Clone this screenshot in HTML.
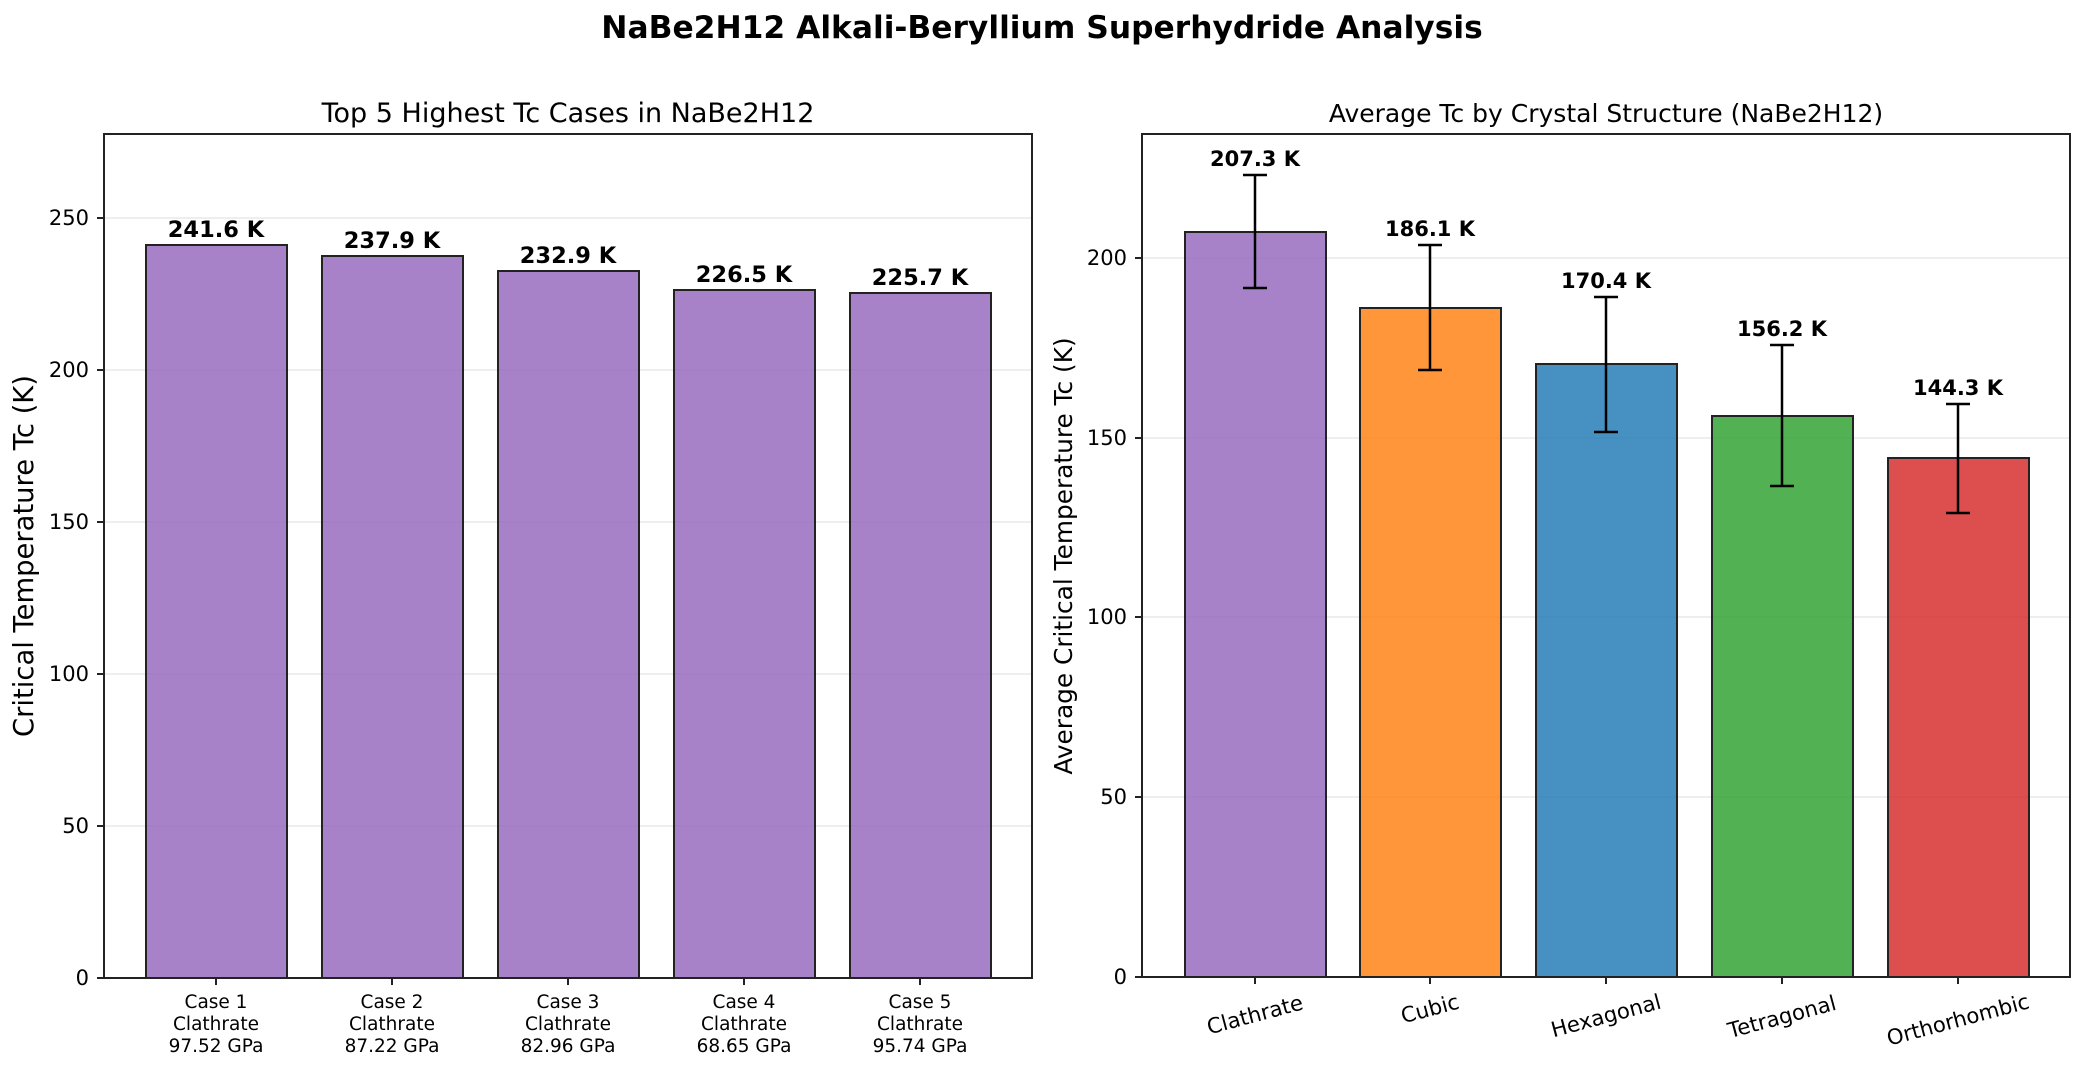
<!DOCTYPE html>
<html><head><meta charset="utf-8"><style>html,body{margin:0;padding:0;background:#fff}svg{display:block}text{font-family:"DejaVu Sans","Liberation Sans",sans-serif}</style></head>
<body>
<svg width="2085" height="1071" viewBox="0 0 2085 1071" xmlns="http://www.w3.org/2000/svg">
<rect width="2085" height="1071" fill="#fff"/>
<text x="1042" y="38" text-anchor="middle" font-size="31.3" font-weight="bold">NaBe2H12 Alkali-Beryllium Superhydride Analysis</text>

<!-- LEFT -->
<text x="568" y="122" text-anchor="middle" font-size="27">Top 5 Highest Tc Cases in NaBe2H12</text>
<g stroke="#e8e8e8" stroke-width="1.5">
<line x1="104" x2="1032" y1="826" y2="826"/><line x1="104" x2="1032" y1="674" y2="674"/><line x1="104" x2="1032" y1="522" y2="522"/><line x1="104" x2="1032" y1="370" y2="370"/><line x1="104" x2="1032" y1="218" y2="218"/>
</g>
<g fill="#9467bd" fill-opacity="0.82" stroke="#222" stroke-width="2">
<rect x="146" y="245" width="141" height="733"/>
<rect x="322" y="256" width="141" height="722"/>
<rect x="498" y="271" width="141" height="707"/>
<rect x="674" y="290" width="141" height="688"/>
<rect x="850" y="293" width="141" height="685"/>
</g>
<g font-size="22.5" font-weight="bold" text-anchor="middle">
<text x="216" y="237">241.6 K</text><text x="392" y="248">237.9 K</text><text x="568" y="263">232.9 K</text><text x="744" y="282">226.5 K</text><text x="920" y="285">225.7 K</text>
</g>
<rect x="104" y="134" width="928" height="844" fill="none" stroke="#222" stroke-width="2"/>
<g stroke="#222" stroke-width="2">
<line x1="97" x2="104" y1="978" y2="978"/><line x1="97" x2="104" y1="826" y2="826"/><line x1="97" x2="104" y1="674" y2="674"/><line x1="97" x2="104" y1="522" y2="522"/><line x1="97" x2="104" y1="370" y2="370"/><line x1="97" x2="104" y1="218" y2="218"/>
<line x1="216" x2="216" y1="978" y2="985"/><line x1="392" x2="392" y1="978" y2="985"/><line x1="568" x2="568" y1="978" y2="985"/><line x1="744" x2="744" y1="978" y2="985"/><line x1="920" x2="920" y1="978" y2="985"/>
</g>
<g font-size="21" text-anchor="end">
<text x="89" y="985">0</text><text x="89" y="833">50</text><text x="89" y="681">100</text><text x="89" y="529">150</text><text x="89" y="377">200</text><text x="89" y="225">250</text>
</g>
<text transform="translate(33,556) rotate(-90)" text-anchor="middle" font-size="27.4">Critical Temperature Tc (K)</text>
<g font-size="18.5" text-anchor="middle">
<text x="216" y="1008">Case 1</text><text x="216" y="1030">Clathrate</text><text x="216" y="1052">97.52 GPa</text>
<text x="392" y="1008">Case 2</text><text x="392" y="1030">Clathrate</text><text x="392" y="1052">87.22 GPa</text>
<text x="568" y="1008">Case 3</text><text x="568" y="1030">Clathrate</text><text x="568" y="1052">82.96 GPa</text>
<text x="744" y="1008">Case 4</text><text x="744" y="1030">Clathrate</text><text x="744" y="1052">68.65 GPa</text>
<text x="920" y="1008">Case 5</text><text x="920" y="1030">Clathrate</text><text x="920" y="1052">95.74 GPa</text>
</g>

<!-- RIGHT -->
<text x="1606" y="122" text-anchor="middle" font-size="25">Average Tc by Crystal Structure (NaBe2H12)</text>
<g stroke="#e8e8e8" stroke-width="1.5">
<line x1="1142" x2="2070" y1="797" y2="797"/><line x1="1142" x2="2070" y1="617" y2="617"/><line x1="1142" x2="2070" y1="438" y2="438"/><line x1="1142" x2="2070" y1="258" y2="258"/>
</g>
<g stroke="#222" stroke-width="2">
<rect x="1185" y="232" width="141" height="745" fill="#9467bd" fill-opacity="0.82"/>
<rect x="1360" y="308" width="141" height="669" fill="#ff7f0e" fill-opacity="0.82"/>
<rect x="1536" y="364" width="141" height="613" fill="#1f77b4" fill-opacity="0.82"/>
<rect x="1712" y="416" width="141" height="561" fill="#2ca02c" fill-opacity="0.82"/>
<rect x="1888" y="458" width="141" height="519" fill="#d62728" fill-opacity="0.82"/>
</g>
<g stroke="#000" stroke-width="2.5">
<line x1="1255" x2="1255" y1="175" y2="288"/><line x1="1243" x2="1267" y1="175" y2="175"/><line x1="1243" x2="1267" y1="288" y2="288"/>
<line x1="1430" x2="1430" y1="245" y2="370"/><line x1="1418" x2="1442" y1="245" y2="245"/><line x1="1418" x2="1442" y1="370" y2="370"/>
<line x1="1606" x2="1606" y1="297" y2="432"/><line x1="1594" x2="1618" y1="297" y2="297"/><line x1="1594" x2="1618" y1="432" y2="432"/>
<line x1="1782" x2="1782" y1="345" y2="486"/><line x1="1770" x2="1794" y1="345" y2="345"/><line x1="1770" x2="1794" y1="486" y2="486"/>
<line x1="1958" x2="1958" y1="404" y2="513"/><line x1="1946" x2="1970" y1="404" y2="404"/><line x1="1946" x2="1970" y1="513" y2="513"/>
</g>
<g font-size="21" font-weight="bold" text-anchor="middle">
<text x="1255" y="166">207.3 K</text><text x="1430" y="236">186.1 K</text><text x="1606" y="288">170.4 K</text><text x="1782" y="336">156.2 K</text><text x="1958" y="395">144.3 K</text>
</g>
<rect x="1142" y="134" width="928" height="843" fill="none" stroke="#222" stroke-width="2"/>
<g stroke="#222" stroke-width="2">
<line x1="1135" x2="1142" y1="977" y2="977"/><line x1="1135" x2="1142" y1="797" y2="797"/><line x1="1135" x2="1142" y1="617" y2="617"/><line x1="1135" x2="1142" y1="438" y2="438"/><line x1="1135" x2="1142" y1="258" y2="258"/>
<line x1="1255" x2="1255" y1="977" y2="984"/><line x1="1430" x2="1430" y1="977" y2="984"/><line x1="1606" x2="1606" y1="977" y2="984"/><line x1="1782" x2="1782" y1="977" y2="984"/><line x1="1958" x2="1958" y1="977" y2="984"/>
</g>
<g font-size="21" text-anchor="end">
<text x="1127" y="984">0</text><text x="1127" y="804">50</text><text x="1127" y="624">100</text><text x="1127" y="445">150</text><text x="1127" y="265">200</text>
</g>
<text transform="translate(1072,556) rotate(-90)" text-anchor="middle" font-size="24.8">Average Critical Temperature Tc (K)</text>
<g font-size="21.2" text-anchor="middle">
<text transform="translate(1255,1015) rotate(-15)" y="7">Clathrate</text>
<text transform="translate(1430,1009) rotate(-15)" y="7">Cubic</text>
<text transform="translate(1606,1016) rotate(-15)" y="7">Hexagonal</text>
<text transform="translate(1782,1017) rotate(-15)" y="7">Tetragonal</text>
<text transform="translate(1958,1020) rotate(-15)" y="7">Orthorhombic</text>
</g>
</svg>
</body></html>
